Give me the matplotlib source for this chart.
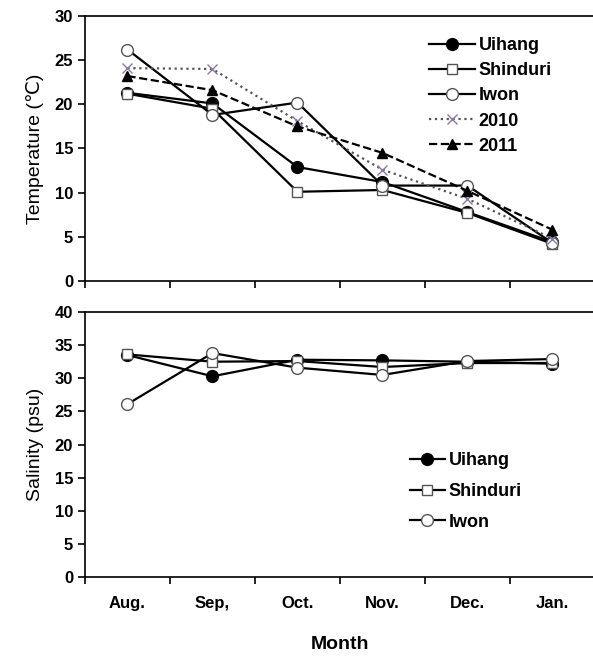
import numpy as np
import matplotlib
matplotlib.use("Agg")
import matplotlib.pyplot as plt

plt.rcParams['font.family'] = ['Liberation Sans', 'DejaVu Sans']

months = ["Aug.", "Sep,", "Oct.", "Nov.", "Dec.", "Jan."]

# temperature (deg C)
temp_uihang = [21.3, 20.1, 12.9, 11.2, 7.8, 4.4]
temp_shinduri = [21.2, 19.5, 10.1, 10.3, 7.7, 4.2]
temp_iwon = [26.2, 18.8, 20.2, 10.8, 10.8, 4.3]
temp_2010 = [24.1, 24.0, 18.1, 12.6, 9.3, 4.8]
temp_2011 = [23.2, 21.6, 17.5, 14.5, 10.2, 5.8]

# salinity (psu)
sal_uihang = [33.5, 30.3, 32.8, 32.7, 32.5, 32.2]
sal_shinduri = [33.6, 32.5, 32.6, 31.7, 32.3, 32.3]
sal_iwon = [26.1, 33.8, 31.6, 30.5, 32.6, 32.9]

x = np.arange(len(months)) + 0.5

fig = plt.figure(figsize=(5.93, 6.58), dpi=100)
ax1 = fig.add_axes([0.1433, 0.573, 0.86, 0.4027])
ax2 = fig.add_axes([0.1433, 0.1231, 0.86, 0.4027])

ms = 8.5
ax1.plot(x, temp_uihang, '-', color='black', lw=1.6, marker='o', ms=ms,
         mfc='black', mec='black', label='Uihang')
ax1.plot(x, temp_shinduri, '-', color='black', lw=1.6, marker='s', ms=7,
         mfc='white', mec='#555555', label='Shinduri')
ax1.plot(x, temp_iwon, '-', color='black', lw=1.6, marker='o', ms=ms,
         mfc='white', mec='#555555', label='Iwon')
ax1.plot(x, temp_2010, ':', color='#555555', lw=1.6, marker='x', ms=7,
         mec='#8a7aa8', label='2010')
ax1.plot(x, temp_2011, '--', color='black', lw=1.6, marker='^', ms=7,
         mfc='black', mec='black', label='2011')

ax2.plot(x, sal_uihang, '-', color='black', lw=1.6, marker='o', ms=ms,
         mfc='black', mec='black', label='Uihang')
ax2.plot(x, sal_shinduri, '-', color='black', lw=1.6, marker='s', ms=7,
         mfc='white', mec='#555555', label='Shinduri')
ax2.plot(x, sal_iwon, '-', color='black', lw=1.6, marker='o', ms=ms,
         mfc='white', mec='#555555', label='Iwon')

ax1.set_ylim(0, 30)
ax1.set_yticks(range(0, 31, 5))
ax2.set_ylim(0, 40)
ax2.set_yticks(range(0, 41, 5))

for ax in (ax1, ax2):
    ax.set_xlim(0, 6)
    ax.set_xticks(range(0, 7))
    ax.set_xticklabels([])
    ax.tick_params(axis='both', direction='out', length=5, width=1.2,
                   labelsize=12)
    for lab in ax.get_yticklabels():
        lab.set_fontweight('bold')
    for sp in ax.spines.values():
        sp.set_linewidth(1.2)

ax2.set_xticks(x, minor=True)
ax2.set_xticklabels(months, minor=True, fontsize=12, fontweight='bold')
ax2.tick_params(axis='x', which='minor', length=0, pad=14)

ax1.set_ylabel('Temperature (\u2103)', fontsize=14, labelpad=8)
ax2.set_ylabel('Salinity (psu)', fontsize=14, labelpad=8)
ax2.set_xlabel('Month', fontsize=14, fontweight='bold', labelpad=18)

ax1.legend(loc='upper left', bbox_to_anchor=(0.675, 0.92), frameon=False,
           prop={'weight': 'bold', 'size': 13}, handlelength=2.55,
           handletextpad=0.2, labelspacing=0.45, borderpad=0,
           borderaxespad=0)
ax2.legend(loc='upper left', bbox_to_anchor=(0.637, 0.47), frameon=False,
           prop={'weight': 'bold', 'size': 13}, handlelength=1.95,
           handletextpad=0.2, labelspacing=0.75, borderpad=0,
           borderaxespad=0)

fig.savefig('out.png', dpi=100)
